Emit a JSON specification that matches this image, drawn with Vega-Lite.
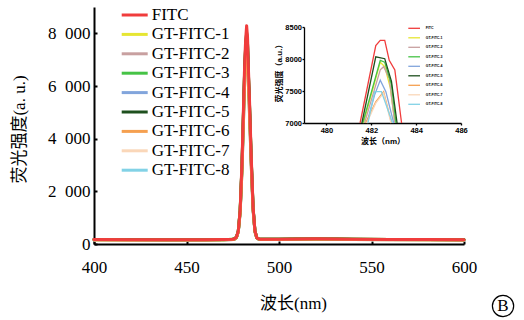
{
  "$schema": "https://vega.github.io/schema/vega-lite/v6.json",
  "width": 370,
  "height": 237,
  "autosize": {"type": "none"},
  "padding": {"left": 94, "top": 7, "right": 60, "bottom": 76},
  "background": "white",
  "config": {"view": {"stroke": null}, "axis": {"grid": false}},
  "datasets": {
    "spectra": [
      {"x": 400, "FITC": 170, "GT-FITC-1": 165, "GT-FITC-2": 160, "GT-FITC-3": 168, "GT-FITC-4": 162, "GT-FITC-5": 172, "GT-FITC-6": 158, "GT-FITC-7": 155, "GT-FITC-8": 160},
      {"x": 420, "FITC": 165, "GT-FITC-1": 160, "GT-FITC-2": 158, "GT-FITC-3": 163, "GT-FITC-4": 160, "GT-FITC-5": 167, "GT-FITC-6": 155, "GT-FITC-7": 152, "GT-FITC-8": 157},
      {"x": 440, "FITC": 160, "GT-FITC-1": 158, "GT-FITC-2": 155, "GT-FITC-3": 160, "GT-FITC-4": 158, "GT-FITC-5": 163, "GT-FITC-6": 152, "GT-FITC-7": 150, "GT-FITC-8": 155},
      {"x": 460, "FITC": 165, "GT-FITC-1": 160, "GT-FITC-2": 158, "GT-FITC-3": 162, "GT-FITC-4": 160, "GT-FITC-5": 165, "GT-FITC-6": 155, "GT-FITC-7": 152, "GT-FITC-8": 157},
      {"x": 470, "FITC": 170, "GT-FITC-1": 165, "GT-FITC-2": 162, "GT-FITC-3": 166, "GT-FITC-4": 163, "GT-FITC-5": 170, "GT-FITC-6": 160, "GT-FITC-7": 157, "GT-FITC-8": 160},
      {"x": 475, "FITC": 180, "GT-FITC-1": 176, "GT-FITC-2": 172, "GT-FITC-3": 176, "GT-FITC-4": 172, "GT-FITC-5": 180, "GT-FITC-6": 168, "GT-FITC-7": 165, "GT-FITC-8": 168},
      {"x": 476, "FITC": 200, "GT-FITC-1": 198, "GT-FITC-2": 195, "GT-FITC-3": 199, "GT-FITC-4": 193, "GT-FITC-5": 199, "GT-FITC-6": 190, "GT-FITC-7": 188, "GT-FITC-8": 190},
      {"x": 477, "FITC": 260, "GT-FITC-1": 256, "GT-FITC-2": 253, "GT-FITC-3": 257, "GT-FITC-4": 250, "GT-FITC-5": 257, "GT-FITC-6": 247, "GT-FITC-7": 245, "GT-FITC-8": 247},
      {"x": 478, "FITC": 500, "GT-FITC-1": 486, "GT-FITC-2": 484, "GT-FITC-3": 487, "GT-FITC-4": 475, "GT-FITC-5": 489, "GT-FITC-6": 467, "GT-FITC-7": 466, "GT-FITC-8": 467},
      {"x": 479, "FITC": 1300, "GT-FITC-1": 1253, "GT-FITC-2": 1244, "GT-FITC-3": 1257, "GT-FITC-4": 1213, "GT-FITC-5": 1264, "GT-FITC-6": 1187, "GT-FITC-7": 1185, "GT-FITC-8": 1187},
      {"x": 480, "FITC": 3100, "GT-FITC-1": 2977, "GT-FITC-2": 2954, "GT-FITC-3": 2989, "GT-FITC-4": 2874, "GT-FITC-5": 3006, "GT-FITC-6": 2807, "GT-FITC-7": 2801, "GT-FITC-8": 2807},
      {"x": 481, "FITC": 5700, "GT-FITC-1": 5468, "GT-FITC-2": 5424, "GT-FITC-3": 5490, "GT-FITC-4": 5274, "GT-FITC-5": 5523, "GT-FITC-6": 5147, "GT-FITC-7": 5136, "GT-FITC-8": 5147},
      {"x": 481.5, "FITC": 7000, "GT-FITC-1": 6713, "GT-FITC-2": 6659, "GT-FITC-3": 6740, "GT-FITC-4": 6474, "GT-FITC-5": 6781, "GT-FITC-6": 6317, "GT-FITC-7": 6303, "GT-FITC-8": 6317},
      {"x": 482, "FITC": 7800, "GT-FITC-1": 7480, "GT-FITC-2": 7419, "GT-FITC-3": 7510, "GT-FITC-4": 7212, "GT-FITC-5": 7556, "GT-FITC-6": 7037, "GT-FITC-7": 7022, "GT-FITC-8": 7037},
      {"x": 482.5, "FITC": 8290, "GT-FITC-1": 7949, "GT-FITC-2": 7884, "GT-FITC-3": 7981, "GT-FITC-4": 7665, "GT-FITC-5": 8030, "GT-FITC-6": 7478, "GT-FITC-7": 7462, "GT-FITC-8": 7478},
      {"x": 483, "FITC": 7850, "GT-FITC-1": 7527, "GT-FITC-2": 7466, "GT-FITC-3": 7558, "GT-FITC-4": 7259, "GT-FITC-5": 7604, "GT-FITC-6": 7082, "GT-FITC-7": 7067, "GT-FITC-8": 7082},
      {"x": 483.5, "FITC": 6600, "GT-FITC-1": 6330, "GT-FITC-2": 6279, "GT-FITC-3": 6356, "GT-FITC-4": 6105, "GT-FITC-5": 6394, "GT-FITC-6": 5957, "GT-FITC-7": 5944, "GT-FITC-8": 5957},
      {"x": 484, "FITC": 5600, "GT-FITC-1": 5372, "GT-FITC-2": 5329, "GT-FITC-3": 5394, "GT-FITC-4": 5182, "GT-FITC-5": 5426, "GT-FITC-6": 5057, "GT-FITC-7": 5046, "GT-FITC-8": 5057},
      {"x": 485, "FITC": 3300, "GT-FITC-1": 3169, "GT-FITC-2": 3144, "GT-FITC-3": 3181, "GT-FITC-4": 3059, "GT-FITC-5": 3200, "GT-FITC-6": 2987, "GT-FITC-7": 2981, "GT-FITC-8": 2987},
      {"x": 486, "FITC": 1400, "GT-FITC-1": 1348, "GT-FITC-2": 1339, "GT-FITC-3": 1353, "GT-FITC-4": 1305, "GT-FITC-5": 1361, "GT-FITC-6": 1277, "GT-FITC-7": 1275, "GT-FITC-8": 1277},
      {"x": 487, "FITC": 500, "GT-FITC-1": 486, "GT-FITC-2": 484, "GT-FITC-3": 487, "GT-FITC-4": 475, "GT-FITC-5": 489, "GT-FITC-6": 467, "GT-FITC-7": 466, "GT-FITC-8": 467},
      {"x": 488, "FITC": 240, "GT-FITC-1": 237, "GT-FITC-2": 237, "GT-FITC-3": 237, "GT-FITC-4": 235, "GT-FITC-5": 238, "GT-FITC-6": 233, "GT-FITC-7": 233, "GT-FITC-8": 233},
      {"x": 489, "FITC": 195, "GT-FITC-1": 192, "GT-FITC-2": 190, "GT-FITC-3": 193, "GT-FITC-4": 188, "GT-FITC-5": 194, "GT-FITC-6": 186, "GT-FITC-7": 185, "GT-FITC-8": 186},
      {"x": 490, "FITC": 182, "GT-FITC-1": 180, "GT-FITC-2": 178, "GT-FITC-3": 181, "GT-FITC-4": 176, "GT-FITC-5": 182, "GT-FITC-6": 174, "GT-FITC-7": 172, "GT-FITC-8": 174},
      {"x": 500, "FITC": 182, "GT-FITC-1": 179, "GT-FITC-2": 177, "GT-FITC-3": 180, "GT-FITC-4": 176, "GT-FITC-5": 182, "GT-FITC-6": 174, "GT-FITC-7": 172, "GT-FITC-8": 174},
      {"x": 510, "FITC": 190, "GT-FITC-1": 186, "GT-FITC-2": 183, "GT-FITC-3": 187, "GT-FITC-4": 182, "GT-FITC-5": 190, "GT-FITC-6": 180, "GT-FITC-7": 178, "GT-FITC-8": 180},
      {"x": 520, "FITC": 195, "GT-FITC-1": 190, "GT-FITC-2": 187, "GT-FITC-3": 191, "GT-FITC-4": 186, "GT-FITC-5": 194, "GT-FITC-6": 183, "GT-FITC-7": 181, "GT-FITC-8": 183},
      {"x": 530, "FITC": 190, "GT-FITC-1": 186, "GT-FITC-2": 183, "GT-FITC-3": 187, "GT-FITC-4": 182, "GT-FITC-5": 190, "GT-FITC-6": 180, "GT-FITC-7": 178, "GT-FITC-8": 180},
      {"x": 540, "FITC": 182, "GT-FITC-1": 178, "GT-FITC-2": 176, "GT-FITC-3": 180, "GT-FITC-4": 175, "GT-FITC-5": 182, "GT-FITC-6": 173, "GT-FITC-7": 171, "GT-FITC-8": 173},
      {"x": 560, "FITC": 175, "GT-FITC-1": 171, "GT-FITC-2": 169, "GT-FITC-3": 173, "GT-FITC-4": 168, "GT-FITC-5": 175, "GT-FITC-6": 165, "GT-FITC-7": 163, "GT-FITC-8": 165},
      {"x": 580, "FITC": 170, "GT-FITC-1": 166, "GT-FITC-2": 164, "GT-FITC-3": 168, "GT-FITC-4": 163, "GT-FITC-5": 170, "GT-FITC-6": 160, "GT-FITC-7": 158, "GT-FITC-8": 160},
      {"x": 600, "FITC": 165, "GT-FITC-1": 162, "GT-FITC-2": 160, "GT-FITC-3": 163, "GT-FITC-4": 158, "GT-FITC-5": 165, "GT-FITC-6": 155, "GT-FITC-7": 153, "GT-FITC-8": 155}
    ],
    "inset": [
      {"series": "FITC", "x": 481.5, "y": 7000}, {"series": "FITC", "x": 482.2, "y": 8210}, {"series": "FITC", "x": 482.4, "y": 8290}, {"series": "FITC", "x": 482.6, "y": 8290}, {"series": "FITC", "x": 482.8, "y": 7980}, {"series": "FITC", "x": 483.05, "y": 7830}, {"series": "FITC", "x": 483.35, "y": 7000},
      {"series": "GT-FITC-1", "x": 481.65, "y": 7000}, {"series": "GT-FITC-1", "x": 482.4, "y": 7950}, {"series": "GT-FITC-1", "x": 482.6, "y": 7880}, {"series": "GT-FITC-1", "x": 482.85, "y": 7550}, {"series": "GT-FITC-1", "x": 483.05, "y": 7000},
      {"series": "GT-FITC-2", "x": 481.7, "y": 7000}, {"series": "GT-FITC-2", "x": 482.4, "y": 7830}, {"series": "GT-FITC-2", "x": 482.55, "y": 7880}, {"series": "GT-FITC-2", "x": 482.8, "y": 7700}, {"series": "GT-FITC-2", "x": 483.05, "y": 7000},
      {"series": "GT-FITC-3", "x": 481.62, "y": 7000}, {"series": "GT-FITC-3", "x": 482.4, "y": 7980}, {"series": "GT-FITC-3", "x": 482.6, "y": 7950}, {"series": "GT-FITC-3", "x": 482.9, "y": 7600}, {"series": "GT-FITC-3", "x": 483.1, "y": 7000},
      {"series": "GT-FITC-4", "x": 481.8, "y": 7000}, {"series": "GT-FITC-4", "x": 482.15, "y": 7440}, {"series": "GT-FITC-4", "x": 482.4, "y": 7670}, {"series": "GT-FITC-4", "x": 482.65, "y": 7490}, {"series": "GT-FITC-4", "x": 483.0, "y": 7000},
      {"series": "GT-FITC-5", "x": 481.58, "y": 7000}, {"series": "GT-FITC-5", "x": 482.2, "y": 8035}, {"series": "GT-FITC-5", "x": 482.6, "y": 8005}, {"series": "GT-FITC-5", "x": 482.9, "y": 7650}, {"series": "GT-FITC-5", "x": 483.15, "y": 7000},
      {"series": "GT-FITC-6", "x": 481.75, "y": 7000}, {"series": "GT-FITC-6", "x": 482.2, "y": 7330}, {"series": "GT-FITC-6", "x": 482.55, "y": 7490}, {"series": "GT-FITC-6", "x": 482.9, "y": 7000},
      {"series": "GT-FITC-7", "x": 481.8, "y": 7000}, {"series": "GT-FITC-7", "x": 482.2, "y": 7310}, {"series": "GT-FITC-7", "x": 482.55, "y": 7470}, {"series": "GT-FITC-7", "x": 482.88, "y": 7000},
      {"series": "GT-FITC-8", "x": 481.85, "y": 7000}, {"series": "GT-FITC-8", "x": 482.15, "y": 7490}, {"series": "GT-FITC-8", "x": 482.45, "y": 7490}, {"series": "GT-FITC-8", "x": 482.95, "y": 7000}
    ],
    "panel": [{"bx": 621.1, "by": -2354, "label": "B"}]
  },
  "layer": [
    {
      "layer": [
        {
          "data": {"name": "spectra"},
          "transform": [{"fold": ["GT-FITC-8", "GT-FITC-7", "GT-FITC-4", "GT-FITC-2", "GT-FITC-1", "GT-FITC-3", "GT-FITC-5", "GT-FITC-6", "FITC"], "as": ["series", "value"]}],
          "mark": {"type": "line", "strokeWidth": 3, "strokeJoin": "round", "strokeCap": "round"},
          "encoding": {
            "x": {"field": "x", "type": "quantitative",
              "scale": {"domain": [400, 600], "nice": false, "zero": false},
              "axis": {"orient": "bottom", "values": [400, 450, 500, 550, 600], "format": "d", "domainColor": "black", "domainWidth": 2, "tickColor": "black", "tickWidth": 2, "tickSize": -3, "labelFont": "Liberation Serif", "labelFontSize": 17, "labelColor": "black", "labelPadding": 18, "labelFlush": false, "labelOverlap": false, "title": "波长(nm)", "titleFont": "Liberation Serif, Noto Sans CJK SC", "titleFontSize": 17, "titleFontWeight": "normal", "titleColor": "black", "titleX": 199, "titleY": 59, "titleBaseline": "middle", "titleAlign": "center"}},
            "y": {"field": "value", "type": "quantitative",
              "scale": {"domain": [0, 9000], "nice": false, "zero": false},
              "axis": {"values": [0, 2000, 4000, 6000, 8000], "labelExpr": "replace(format(datum.value, ','), ',', '\u2002')", "domainColor": "black", "domainWidth": 2, "tickColor": "black", "tickWidth": 2, "tickSize": -3, "labelFont": "Liberation Serif", "labelFontSize": 17, "labelColor": "black", "labelPadding": 7, "title": "荧光强度(a. u.)", "titleFont": "Liberation Serif, Noto Sans CJK SC", "titleFontSize": 17, "titleFontWeight": "normal", "titleColor": "black", "titleX": -75, "titleY": 122, "titleAngle": 270, "titleBaseline": "middle", "titleAlign": "center"}},
            "color": {"field": "series", "type": "nominal",
              "scale": {"domain": ["FITC", "GT-FITC-1", "GT-FITC-2", "GT-FITC-3", "GT-FITC-4", "GT-FITC-5", "GT-FITC-6", "GT-FITC-7", "GT-FITC-8"],
                        "range": ["#f03c3c", "#e6e632", "#c8a0a0", "#46c346", "#82a5dc", "#1e501e", "#f5a050", "#fad7b9", "#82d2e6"]},
              "legend": {"orient": "none", "legendX": 32.2, "legendY": -0.5, "title": null, "padding": 0, "symbolType": "M-4,0H4", "symbolSize": 42.25, "symbolStrokeWidth": 3, "labelFont": "Liberation Serif", "labelFontSize": 17, "labelColor": "black", "labelOffset": 8.5, "rowPadding": 1.4, "labelLimit": 0}}
          }
        },
        {
          "data": {"name": "panel"},
          "mark": {"type": "point", "shape": "circle", "filled": false, "stroke": "black", "strokeWidth": 1.2, "size": 452, "opacity": 1},
          "encoding": {
            "x": {"field": "bx", "type": "quantitative", "scale": {"domain": [400, 600], "nice": false, "zero": false}},
            "y": {"field": "by", "type": "quantitative", "scale": {"domain": [0, 9000], "nice": false, "zero": false}}
          }
        },
        {
          "data": {"name": "panel"},
          "mark": {"type": "text", "font": "Liberation Serif", "fontSize": 17, "baseline": "middle", "align": "center", "color": "black"},
          "encoding": {
            "x": {"field": "bx", "type": "quantitative", "scale": {"domain": [400, 600], "nice": false, "zero": false}},
            "y": {"field": "by", "type": "quantitative", "scale": {"domain": [0, 9000], "nice": false, "zero": false}},
            "text": {"field": "label"}
          }
        }
      ]
    },
    {
      "data": {"name": "inset"},
      "mark": {"type": "line", "strokeWidth": 1.3},
      "encoding": {
        "x": {"field": "x", "type": "quantitative",
          "scale": {"domain": [479, 486], "range": [210, 367], "nice": false, "zero": false},
          "axis": {"orient": "bottom", "offset": -121, "values": [480, 482, 484, 486], "format": "d", "domainColor": "black", "domainWidth": 1.3, "tickColor": "black", "tickWidth": 1.3, "tickSize": 2, "labelFont": "Liberation Sans", "labelFontWeight": "bold", "labelFontSize": 7.5, "labelColor": "black", "labelPadding": 1.5, "labelFlush": false, "title": "波长（nm）", "titleFont": "Liberation Sans, Noto Sans CJK SC", "titleFontSize": 8, "titleFontWeight": "bold", "titleColor": "black", "titleX": 288.5, "titleY": 18.4, "titleBaseline": "middle", "titleAlign": "center"}},
        "y": {"field": "y", "type": "quantitative",
          "scale": {"domain": [7000, 8500], "range": [116, 20], "nice": false, "zero": false},
          "axis": {"orient": "left", "offset": -210, "values": [7000, 7500, 8000, 8500], "format": "d", "domainColor": "black", "domainWidth": 1.3, "tickColor": "black", "tickWidth": 1.3, "tickSize": 2, "labelFont": "Liberation Sans", "labelFontWeight": "bold", "labelFontSize": 7.5, "labelColor": "black", "labelPadding": 0.5, "title": "荧光强度（a.u.）", "titleFont": "Liberation Sans, Noto Sans CJK SC", "titleFontSize": 8, "titleFontWeight": "bold", "titleColor": "black", "titleX": -25, "titleY": 64, "titleAngle": 270, "titleBaseline": "middle", "titleAlign": "center"}},
        "color": {"field": "series", "type": "nominal",
          "scale": {"domain": ["FITC", "GT-FITC-1", "GT-FITC-2", "GT-FITC-3", "GT-FITC-4", "GT-FITC-5", "GT-FITC-6", "GT-FITC-7", "GT-FITC-8"],
                    "range": ["#f03c3c", "#e6e632", "#c8a0a0", "#46c346", "#82a5dc", "#1e501e", "#f5a050", "#fad7b9", "#82d2e6"]},
          "legend": {"orient": "none", "legendX": 317.65, "legendY": 18.8, "title": null, "padding": 0, "symbolType": "M-4,0H4", "symbolSize": 8.56, "symbolStrokeWidth": 1.3, "labelFont": "Liberation Sans", "labelFontWeight": "bold", "labelFontSize": 3.5, "labelColor": "black", "labelOffset": 9.05, "rowPadding": 2.5}}
      }
    }
  ],
  "resolve": {
    "scale": {"x": "independent", "y": "independent", "color": "independent"},
    "axis": {"x": "independent", "y": "independent"},
    "legend": {"color": "independent"}
  }
}
